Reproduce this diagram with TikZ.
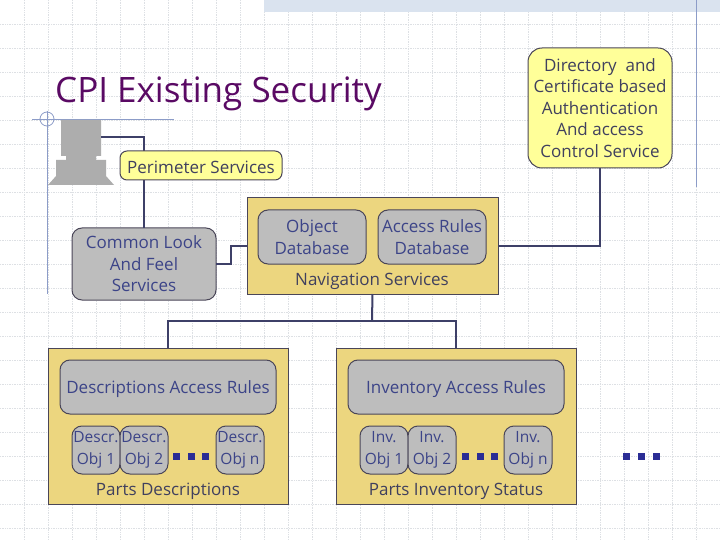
\documentclass[tikz,border=0pt]{standalone}
\usepackage{fontspec}
\setmainfont{Open Sans}
\definecolor{gridcol}{HTML}{DDE0E4}
\definecolor{guidecol}{HTML}{8C9CC8}
\definecolor{bandcol}{HTML}{DAE3EF}
\definecolor{linecol}{HTML}{3E4068}
\definecolor{edgecol}{HTML}{4A4658}
\definecolor{yellowcol}{HTML}{FFFF99}
\definecolor{sandcol}{HTML}{ECD67F}
\definecolor{greycol}{HTML}{BDBDBD}
\definecolor{iconcol}{HTML}{ADADAD}
\definecolor{titlecol}{HTML}{5A0A64}
\definecolor{darktext}{HTML}{40405E}
\definecolor{bluetext}{HTML}{3C4488}
\tikzset{
    basebox/.style={draw=edgecol,line width=1pt,inner sep=0pt,outer sep=0pt,align=center,
        font=\fontsize{17}{21.5}\selectfont,execute at begin node={\rule{0pt}{17pt}}},
    yellowbox/.style={basebox,fill=yellowcol,text=darktext,rounded corners=7pt},
    greybox/.style={basebox,fill=greycol,text=bluetext,rounded corners=10pt},
    objbox/.style={greybox,minimum width=48pt,minimum height=48pt,
        font=\fontsize{15.5}{21.5}\selectfont},
    rulesbox/.style={greybox,minimum width=216pt,minimum height=54pt},
    sandbox/.style={draw=edgecol,line width=1pt,inner sep=0pt,outer sep=0pt,fill=sandcol},
    partsbox/.style={sandbox,minimum width=240pt,minimum height=156pt},
    caption/.style={inner sep=0pt,text=darktext,font=\fontsize{17}{21.5}\selectfont},
    link/.style={draw=linecol,line width=2pt},
    dot/.style={fill=linecol!70!blue,inner sep=0pt,minimum size=7pt}
}
\begin{document}
\begin{tikzpicture}[x=1pt,y=-1pt]
    \useasboundingbox (0,0) rectangle (720,540);
    \fill[white] (0,0) rectangle (720,540);
    \foreach \gx in {24,48,...,696}
        \draw[gridcol,densely dotted,line width=0.7pt] (\gx,0) -- (\gx,540);
    \foreach \gy in {24,48,...,528}
        \draw[gridcol,densely dotted,line width=0.7pt] (0,\gy) -- (720,\gy);
    \fill[bandcol] (264,0) rectangle (720,12);
    \draw[guidecol,line width=0.8pt] (696,0) -- (696,187);
    \draw[guidecol,line width=0.8pt] (47,111) -- (47,294);
    \draw[guidecol,line width=0.8pt] (32,119) -- (174,119);
    \draw[guidecol,line width=0.8pt] (47,119) circle (7);

    \fill[iconcol] (61,120) -- (101,120) -- (101,156) -- (96,156) -- (96,160) -- (106,160)
        -- (106,176) -- (114,185) -- (48,185) -- (56,176) -- (56,160) -- (66,160) -- (66,156)
        -- (61,156) -- cycle;
    \coordinate (iconport) at (101,137);

    \node[text=titlecol,font=\fontsize{35}{40}\selectfont,anchor=west,inner sep=0pt] (heading) at (55,94) {CPI Existing Security};

    \node[greybox,minimum width=144pt,minimum height=72pt] (common) at (144,264) {Common Look\\And Feel\\Services};
    \draw[link] (iconport) -| (common.north);
    \node[yellowbox,minimum width=162pt,minimum height=29pt] (perimeter) at (201,165.5) {Perimeter Services};

    \node[yellowbox,rounded corners=14pt,minimum width=144pt,minimum height=120pt] (directory) at (600,108) {Directory\ \ and\\Certificate based\\Authentication\\And access\\Control Service};

    \node[sandbox,minimum width=251pt,minimum height=96pt] (nav) at (372.5,246) {};
    \node[greybox,minimum width=108pt,minimum height=54pt] (objectdb) at (312,237) {Object\\Database};
    \node[greybox,minimum width=108pt,minimum height=54pt] (rulesdb) at (432,237) {Access Rules\\Database};
    \node[caption] (navlabel) at (372,281.5) {Navigation Services};

    \node[partsbox] (descparts) at (168,426) {};
    \node[rulesbox] (descrules) at (168,387) {Descriptions Access Rules};
    \node[objbox] (descone) at (96,450) {Descr.\\Obj 1};
    \node[objbox] (desctwo) at (144,450) {Descr.\\Obj 2};
    \node[objbox] (descn) at (240,450) {Descr.\\Obj n};
    \node[caption] (desclabel) at (168,491) {Parts Descriptions};
    \node[dot] (descdota) at (176.5,456.5) {};
    \node[dot] (descdotb) at (191.5,456.5) {};
    \node[dot] (descdotc) at (205.5,456.5) {};

    \node[partsbox] (invparts) at (456,426) {};
    \node[rulesbox] (invrules) at (456,387) {Inventory Access Rules};
    \node[objbox] (invone) at (384,450) {Inv.\\Obj 1};
    \node[objbox] (invtwo) at (432,450) {Inv.\\Obj 2};
    \node[objbox] (invn) at (528,450) {Inv.\\Obj n};
    \node[caption] (invlabel) at (456,491) {Parts Inventory Status};
    \node[dot] (invdota) at (465,456.5) {};
    \node[dot] (invdotb) at (480,456.5) {};
    \node[dot] (invdotc) at (494,456.5) {};

    \node[dot] (moredota) at (626.5,456.5) {};
    \node[dot] (moredotb) at (641.5,456.5) {};
    \node[dot] (moredotc) at (656,456.5) {};

    \coordinate (navjoin) at (372,320.5);
    \draw[link] (common.east) -- ++(15,0) |- (nav.west);
    \draw[link] (nav.east) -| (directory.south);
    \draw[link] (nav.south) -- (navjoin);
    \draw[link] (descparts.north) |- (navjoin);
    \draw[link] (invparts.north) |- (navjoin);
\end{tikzpicture}
\end{document}
